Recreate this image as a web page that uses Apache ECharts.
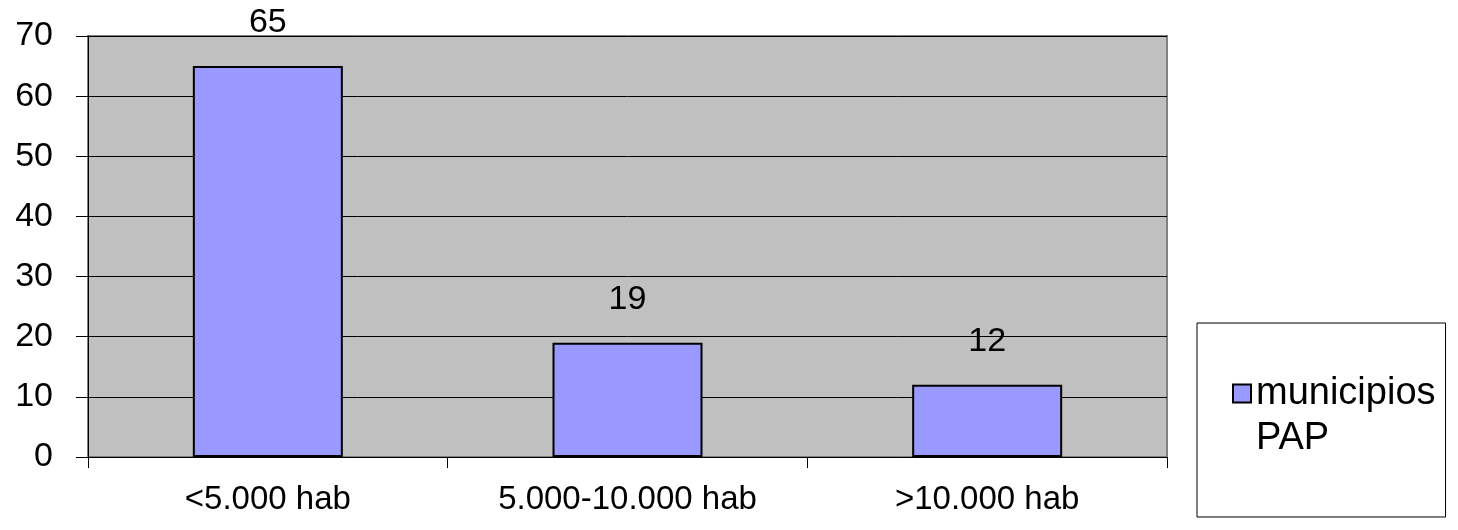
<!DOCTYPE html>
<html>
<head>
<meta charset="utf-8">
<script src="https://cdn.jsdelivr.net/npm/echarts@6/dist/echarts.min.js"></script>
<style>
html,body{margin:0;padding:0;background:#fff;}
#c{width:1458px;height:530px;}
</style>
</head>
<body>
<div id="c"></div>
<script>
var categories = ['<5.000 hab', '5.000-10.000 hab', '>10.000 hab'];
var seriesName = 'municipios PAP';
var values = [65, 19, 12];
var yTicks = [0, 10, 20, 30, 40, 50, 60, 70];

var chart = echarts.init(document.getElementById('c'), null, {renderer: 'canvas'});
var FONT = 'Liberation Sans, Arial, sans-serif';
chart.setOption({
  animation: false,
  backgroundColor: '#ffffff',
  textStyle: {fontFamily: FONT},
  grid: {
    left: 88, right: 291, top: 36, bottom: 73,
    show: true, backgroundColor: '#c0c0c0', borderColor: '#808080', borderWidth: 2
  },
  legend: {
    left: 1197, top: 323,
    orient: 'vertical',
    data: [seriesName],
    icon: 'rect',
    itemWidth: 18, itemHeight: 18,
    itemStyle: {color: '#9999ff', borderColor: '#000', borderWidth: 2},
    formatter: function (n) { return ' \n' + n.replace(' ', '\n'); },
    textStyle: {fontSize: 38, color: '#000', lineHeight: 45, fontFamily: FONT},
    borderColor: '#000', borderWidth: 1,
    padding: [3, 10, 56, 35],
    selectedMode: false
  },
  xAxis: {
    type: 'category',
    data: categories,
    axisLine: {lineStyle: {color: '#000', width: 1}},
    axisTick: {show: true, length: 11, interval: 0, alignWithLabel: false, lineStyle: {color: '#000'}},
    axisLabel: {fontSize: 33, color: '#000', margin: 26, interval: 0, fontFamily: FONT},
    splitLine: {show: false}
  },
  yAxis: {
    type: 'value',
    min: yTicks[0], max: yTicks[yTicks.length - 1], interval: yTicks[1] - yTicks[0],
    axisLine: {show: true, lineStyle: {color: '#000', width: 1}},
    axisTick: {show: true, length: 12, lineStyle: {color: '#000'}},
    axisLabel: {fontSize: 34, color: '#000', margin: 35, fontFamily: FONT},
    splitLine: {show: true, lineStyle: {color: '#000', width: 1}}
  },
  series: [{
    name: seriesName,
    type: 'bar',
    data: values,
    barWidth: 150,
    itemStyle: {color: '#9999ff', borderColor: '#000', borderWidth: 2},
    label: {show: true, position: 'top', distance: 26, fontSize: 34, color: '#000', fontFamily: FONT}
  }]
});
</script>
</body>
</html>
